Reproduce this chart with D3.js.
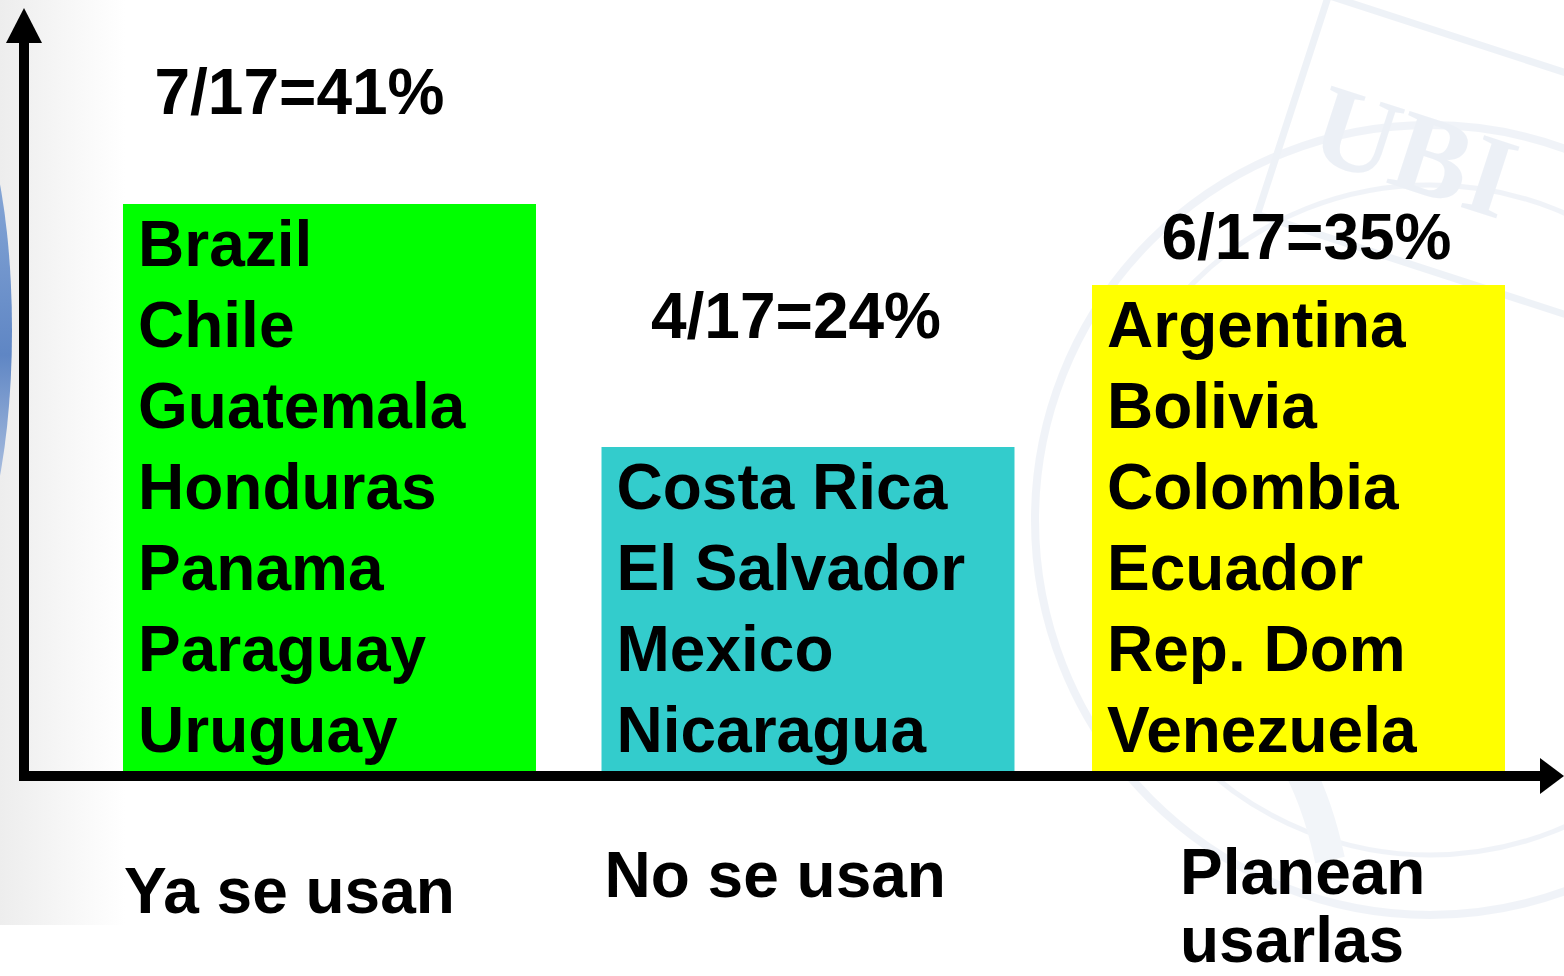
<!DOCTYPE html>
<html>
<head>
<meta charset="utf-8">
<script src="https://cdn.jsdelivr.net/npm/d3@7"></script>
<style>
  html, body { margin: 0; padding: 0; background: #fff; overflow: hidden; }
  svg { display: block; }
  text { font-family: "Liberation Sans", Arial, sans-serif; font-weight: bold; fill: #000; }
</style>
</head>
<body>
<div id="chart"></div>
<script>
// data
var categories = ["Ya se usan", "No se usan", "Planean usarlas"];
var countriesYa = ["Brazil", "Chile", "Guatemala", "Honduras", "Panama", "Paraguay", "Uruguay"];
var countriesNo = ["Costa Rica", "El Salvador", "Mexico", "Nicaragua"];
var countriesPlan = ["Argentina", "Bolivia", "Colombia", "Ecuador", "Rep. Dom", "Venezuela"];
var shareLabels = ["7/17=41%", "4/17=24%", "6/17=35%"];
var categoryLines = [["Ya se usan"], ["No se usan"], ["Planean", "usarlas"]];
var barColors = ["#00ff00", "#33cccc", "#ffff00"];

var countryLists = [countriesYa, countriesNo, countriesPlan];

// layout tweaks (slide placement of boxes and labels)
var barDx = [0, -6, 0];
var shareLift = [90, 109, 26];
var shareDx = [-30, -18, 8];
var catDx = [1, 3, 88];
var catBaseline = [913, 897, 894];

var svgWidth = 1564, svgHeight = 976;

var svg = d3.select("#chart").append("svg")
    .attr("width", svgWidth)
    .attr("height", svgHeight);

var defs = svg.append("defs");
var grayGrad = defs.append("linearGradient").attr("id", "grayGrad")
    .attr("x1", 0).attr("x2", 1).attr("y1", 0).attr("y2", 0);
grayGrad.append("stop").attr("offset", "0%").attr("stop-color", "#ededed");
grayGrad.append("stop").attr("offset", "100%").attr("stop-color", "#ffffff");

var blueGrad = defs.append("linearGradient").attr("id", "blueGrad")
    .attr("x1", 0).attr("x2", 0).attr("y1", 0).attr("y2", 1);
blueGrad.append("stop").attr("offset", "0%").attr("stop-color", "#9bb8e0");
blueGrad.append("stop").attr("offset", "55%").attr("stop-color", "#5f86c4");
blueGrad.append("stop").attr("offset", "100%").attr("stop-color", "#e6ecf5");

// background: faded left panel + blue swoosh
svg.append("rect")
    .attr("x", 0).attr("y", 0)
    .attr("width", 125).attr("height", 925)
    .attr("fill", "url(#grayGrad)");
svg.append("ellipse")
    .attr("cx", -52).attr("cy", 330)
    .attr("rx", 64).attr("ry", 250)
    .attr("fill", "url(#blueGrad)");

// faint UBI watermark on right
var wm = svg.append("g").attr("opacity", 0.5);
wm.append("circle")
    .attr("cx", 1430).attr("cy", 520).attr("r", 395)
    .attr("fill", "none").attr("stroke", "#e3e9f2").attr("stroke-width", 8);
wm.append("circle")
    .attr("cx", 1430).attr("cy", 520).attr("r", 335)
    .attr("fill", "none").attr("stroke", "#e3e9f2").attr("stroke-width", 5);
var wmInner = wm.append("g").attr("transform", "translate(1415,150) rotate(18)");
wmInner.append("rect")
    .attr("x", -130).attr("y", -120).attr("width", 380).attr("height", 230)
    .attr("fill", "none").attr("stroke", "#dfe6f0").attr("stroke-width", 7);
wmInner.append("text")
    .attr("x", 0).attr("y", 40)
    .attr("text-anchor", "middle")
    .style("font-family", "'Liberation Serif', serif")
    .style("font-size", "115px")
    .style("fill", "#dbe3ef")
    .text("UBI");
wm.append("path")
    .attr("d", "M1290,420 C1330,330 1400,380 1360,470 C1330,540 1400,600 1470,560")
    .attr("fill", "none").attr("stroke", "#e3e9f2").attr("stroke-width", 22);
wm.append("path")
    .attr("d", "M1180,640 C1240,700 1300,720 1330,860")
    .attr("fill", "none").attr("stroke", "#e6ecf4").attr("stroke-width", 30);

// scales
var xScale = d3.scaleBand()
    .domain(categories)
    .range([123, 1505])
    .paddingInner(0.1476)
    .paddingOuter(0);

var maxCount = d3.max(countryLists, d => d.length);
var yScale = d3.scaleLinear()
    .domain([0, maxCount])
    .range([771, 771 - 81 * maxCount]);

var rows = categories.map((c, i) => ({
    cat: c,
    count: countryLists[i].length,
    countries: countryLists[i],
    share: shareLabels[i],
    color: barColors[i],
    lines: categoryLines[i],
    idx: i
}));

function barX(d){ return xScale(d.cat) + barDx[d.idx]; }

// bars
svg.selectAll("rect.bar")
    .data(rows)
    .enter()
    .append("rect")
    .attr("class", "bar")
    .attr("x", barX)
    .attr("y", d => yScale(d.count))
    .attr("width", xScale.bandwidth())
    .attr("height", d => yScale(0) - yScale(d.count))
    .attr("fill", d => d.color);

// country names inside bars
var rowH = yScale(0) - yScale(1);
rows.forEach(function(d){
    svg.append("g")
        .selectAll("text")
        .data(d.countries)
        .enter()
        .append("text")
        .attr("x", barX(d) + 15)
        .attr("y", (c, j) => yScale(d.count) + j * rowH + 62)
        .style("font-size", "64px")
        .text(c => c);
});

// share labels above bars
svg.selectAll("text.share")
    .data(rows)
    .enter()
    .append("text")
    .attr("class", "share")
    .attr("x", d => xScale(d.cat) + xScale.bandwidth() / 2 + shareDx[d.idx])
    .attr("y", d => yScale(d.count) - shareLift[d.idx])
    .attr("text-anchor", "middle")
    .style("font-size", "64px")
    .text(d => d.share);

// axes with arrow heads
svg.append("rect")
    .attr("x", 19).attr("y", 40)
    .attr("width", 10).attr("height", yScale(0) + 10 - 40)
    .attr("fill", "#000");
svg.append("path")
    .attr("d", "M24,8 L42,43 L6,43 Z")
    .attr("fill", "#000");
svg.append("rect")
    .attr("x", 19).attr("y", yScale(0))
    .attr("width", 1542 - 19).attr("height", 10)
    .attr("fill", "#000");
svg.append("path")
    .attr("d", `M1564,${yScale(0) + 5} L1540,${yScale(0) - 13} L1540,${yScale(0) + 23} Z`)
    .attr("fill", "#000");

// category labels under axis
rows.forEach(function(d){
    var lx = barX(d) + catDx[d.idx];
    var t = svg.append("text")
        .attr("x", lx)
        .attr("y", catBaseline[d.idx])
        .style("font-size", "64px");
    d.lines.forEach(function(line, j){
        t.append("tspan")
            .attr("x", lx)
            .attr("dy", j == 0 ? 0 : 68)
            .text(line);
    });
});
</script>
</body>
</html>
